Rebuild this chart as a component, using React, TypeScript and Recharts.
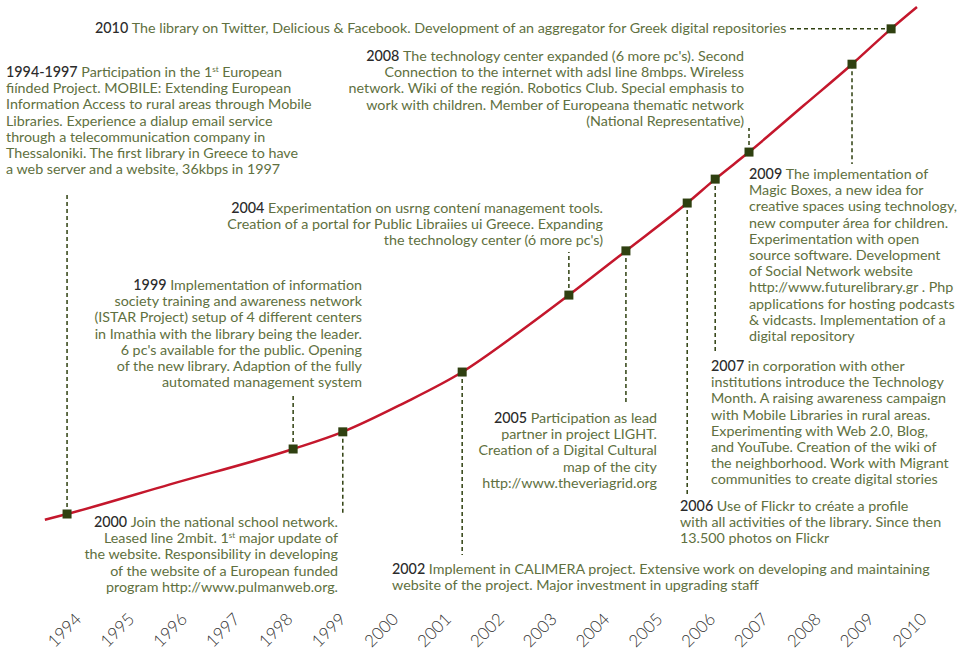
import { Line, LineChart, XAxis, YAxis } from 'recharts'

// years shown on the axis
const TICK_YEARS = [
  1994, 1995, 1996, 1997, 1998, 1999, 2000, 2001, 2002, 2003, 2004, 2005,
  2006, 2007, 2008, 2009, 2010,
]

// growth curve (index 0-100)
const curveYears = [
  1993.63, 1994.05, 1996, 1998.33, 1999.27, 2000.4, 2001.53, 2002.6, 2003.55,
  2004.63, 2005.79, 2006.32, 2006.96, 2008, 2008.91, 2009.65, 2010.14,
]
const curveIndex = [
  1.4, 2.5, 8.2, 15.0, 18.3, 23.7, 29.8, 37.4, 44.6, 53.1, 62.3, 66.9, 72.1,
  81.1, 89.0, 95.8, 100,
]
const milestoneTags = [
  null, '1994-1997', null, '1999', '2000', null, '2002', null, '2004', '2005',
  '2006', '2007', '2008', null, '2009', '2010', null,
]

const NOTES: Record<string, string[]> = {
  '1994-1997': [
    'Participation in the 1^st European',
    'fiínded Project. MOBILE: Extending European',
    'Information Access to rural areas through Mobile',
    'Libraries. Experience a dialup email service',
    'through a telecommunication company in',
    'Thessaloniki. The first library in Greece to have',
    'a web server and a website, 36kbps in 1997',
  ],
  '1999': [
    'Implementation of information',
    'society training and awareness network',
    '(ISTAR Project) setup of 4 different centers',
    'in Imathia with the library being the leader.',
    "6 pc's available for the public. Opening",
    'of the new library. Adaption of the fully',
    'automated management system',
  ],
  '2000': [
    'Join the national school network.',
    'Leased line 2mbit. 1^st major update of',
    'the website. Responsibility in developing',
    'of the website of a European funded',
    'program http://www.pulmanweb.org.',
  ],
  '2002': [
    'Implement in CALIMERA project. Extensive work on developing and maintaining',
    'website of the project. Major investment in upgrading staff',
  ],
  '2004': [
    'Experimentation on usrng contení management tools.',
    'Creation of a portal for Public Libraiies ui Greece. Expanding',
    "the technology center (ó more pc's)",
  ],
  '2005': [
    'Participation as lead',
    'partner in project LIGHT.',
    'Creation of a Digital Cultural',
    'map of the city',
    'http://www.theveriagrid.org',
  ],
  '2006': [
    'Use of Flickr to créate a profile',
    'with all activities of the library. Since then',
    '13.500 photos on Flickr',
  ],
  '2007': [
    'in corporation with other',
    'institutions introduce the Technology',
    'Month. A raising awareness campaign',
    'with Mobile Libraries in rural areas.',
    'Experimenting with Web 2.0, Blog,',
    'and YouTube. Creation of the wiki of',
    'the neighborhood. Work with Migrant',
    'communities to create digital stories',
  ],
  '2008': [
    "The technology center expanded (6 more pc's). Second",
    'Connection to the internet with adsl line 8mbps. Wireless',
    'network. Wiki of the región. Robotics Club. Special emphasis to',
    'work with children. Member of Europeana thematic network',
    '(National Representative)',
  ],
  '2009': [
    'The implementation of',
    'Magic Boxes, a new idea for',
    'creative spaces using technology,',
    'new computer área for children.',
    'Experimentation with open',
    'source software. Development',
    'of Social Network website',
    'http://www.futurelibrary.gr . Php',
    'applications for hosting podcasts',
    '& vidcasts. Implementation of a',
    'digital repository',
  ],
  '2010': [
    'The library on Twitter, Delicious & Facebook. Development of an aggregator for Greek digital repositories',
  ],
}

// where each note sits and where its dashed connector ends (px)
type NoteLayout = {
  x: number
  top: number
  align: 'left' | 'right'
  lineTo?: number
  lineFrom?: number
}
const NOTE_LAYOUT: Record<string, NoteLayout> = {
  '1994-1997': { x: 6, top: 64, align: 'left', lineTo: 193 },
  '1999': { x: 362, top: 277, align: 'right', lineTo: 394 },
  '2000': { x: 338, top: 514, align: 'right', lineTo: 514 },
  '2002': { x: 392, top: 561, align: 'left', lineTo: 555 },
  '2004': { x: 603, top: 200, align: 'right', lineTo: 252 },
  '2005': { x: 657, top: 410, align: 'right', lineTo: 402 },
  '2006': { x: 680, top: 498, align: 'left', lineTo: 495 },
  '2007': { x: 711, top: 358, align: 'left', lineTo: 352 },
  '2008': { x: 744, top: 48, align: 'right', lineTo: 128 },
  '2009': { x: 749, top: 166, align: 'left', lineTo: 164 },
  '2010': { x: 95, top: 20, align: 'left', lineFrom: 790 },
}

const RED = '#c4172c'
const OLIVE = '#607040'
const MARKER = '#2f4010'
const FONT = 'Lato, "Open Sans", sans-serif'

const data = curveYears.map((year, i) => ({
  year,
  index: curveIndex[i],
  tag: milestoneTags[i],
}))

function renderLine(text: string) {
  const parts = text.split('^st')
  if (parts.length === 1) return text
  return (
    <>
      {parts[0]}
      <sup style={{ fontSize: 8, verticalAlign: 5, lineHeight: 0 }}>st</sup>
      {parts[1]}
    </>
  )
}

function MilestoneDot(props: any) {
  const { cx, cy, payload, index } = props
  if (!payload.tag) return <g key={index} />
  const l = NOTE_LAYOUT[payload.tag]
  return (
    <g key={index}>
      {l.lineTo !== undefined && (
        <line
          x1={cx}
          y1={cy}
          x2={cx}
          y2={l.lineTo}
          stroke={MARKER}
          strokeWidth={1.5}
          strokeDasharray="4 3"
        />
      )}
      {l.lineFrom !== undefined && (
        <line
          x1={l.lineFrom}
          y1={cy}
          x2={cx}
          y2={cy}
          stroke={MARKER}
          strokeWidth={1.5}
          strokeDasharray="4 3"
        />
      )}
      <rect x={cx - 4.5} y={cy - 4.5} width={9} height={9} fill={MARKER} />
    </g>
  )
}

function YearTick({ x, y, payload }: any) {
  const cy = y + 95
  return (
    <text
      x={x}
      y={cy}
      dy="0.35em"
      textAnchor="middle"
      transform={`rotate(-45 ${x} ${cy})`}
      fill="#333"
      fontSize={17}
      fontWeight={300}
      fontFamily={FONT}
    >
      {payload.value}
    </text>
  )
}

export default function App() {
  return (
    <div style={{ position: 'relative', width: 957, height: 666 }}>
      <style>{'body{margin:0}'}</style>
      <LineChart
        width={957}
        height={666}
        data={data}
        margin={{ top: 7, right: 21, bottom: 39, left: 38 }}
      >
        <XAxis
          dataKey="year"
          type="number"
          domain={[1993.5, 2010.5]}
          ticks={TICK_YEARS}
          interval={0}
          axisLine={false}
          tickLine={false}
          height={100}
          tick={<YearTick />}
          allowDataOverflow
        />
        <YAxis hide domain={[0, 100]} />
        <Line
          dataKey="index"
          type="monotone"
          stroke={RED}
          strokeWidth={2.5}
          dot={MilestoneDot}
          activeDot={false}
          isAnimationActive={false}
        />
      </LineChart>
      {Object.keys(NOTES).map((tag) => {
        const l = NOTE_LAYOUT[tag]
        const pos =
          l.align === 'left' ? { left: l.x } : { right: 957 - l.x }
        return (
          <div
            key={tag}
            style={{
              position: 'absolute',
              top: l.top,
              ...pos,
              textAlign: l.align,
              whiteSpace: 'nowrap',
              fontFamily: FONT,
              fontSize: 14.3,
              lineHeight: '16.2px',
              color: OLIVE,
            }}
          >
            {NOTES[tag].map((line, i) => (
              <div key={i}>
                {i === 0 && (
                  <span style={{ color: '#2b2b2b', fontWeight: 500 }}>
                    {tag}{' '}
                  </span>
                )}
                {renderLine(line)}
              </div>
            ))}
          </div>
        )
      })}
    </div>
  )
}
